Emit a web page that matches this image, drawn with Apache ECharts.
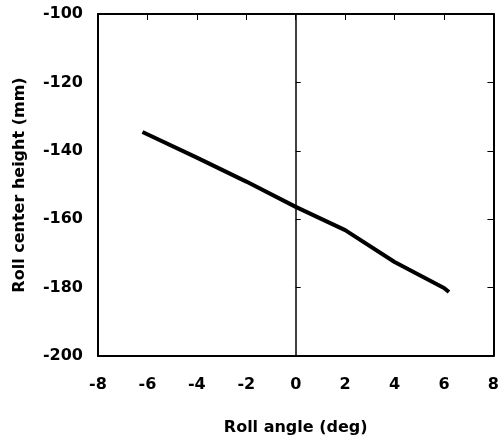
<!DOCTYPE html>
<html>
<head>
<meta charset="utf-8">
<script src="https://cdn.jsdelivr.net/npm/echarts@6/dist/echarts.min.js"></script>
<style>
  html, body { margin: 0; padding: 0; background: #fff; }
  #chart { width: 502px; height: 441px; }
</style>
</head>
<body>
<div id="chart"></div>
<script>
// Roll centre height versus roll angle
const rollAngle = [-6.2, -4, -2, 0, 2, 4, 6, 6.2];
const rollCenterHeight = [-134.5, -142, -149, -156.4, -163.2, -172.5, -180.1, -181.3];

const xTicks = [-8, -6, -4, -2, 0, 2, 4, 6, 8];
const yTicks = [-200, -180, -160, -140, -120, -100];

const FONT = '"DejaVu Sans", Arial, sans-serif';

const chart = echarts.init(document.getElementById('chart'));

const xMin = xTicks[0], xMax = xTicks[xTicks.length - 1];
const yMin = yTicks[0], yMax = yTicks[yTicks.length - 1];
const xStep = xTicks[1] - xTicks[0];
const yStep = yTicks[1] - yTicks[0];

chart.setOption({
  animation: false,
  backgroundColor: '#fff',
  grid: { left: 98, right: 5, top: 14, bottom: 85 },
  xAxis: [
    {
      type: 'value', min: xMin, max: xMax, interval: xStep, position: 'bottom',
      name: 'Roll angle (deg)', nameLocation: 'middle', nameGap: 64,
      nameTextStyle: { fontFamily: FONT, fontWeight: 'bold', fontSize: 16, color: '#000' },
      axisLine: { onZero: false, lineStyle: { color: '#000', width: 2 } },
      axisTick: { show: false },
      axisLabel: { fontFamily: FONT, fontWeight: 'bold', fontSize: 16, color: '#000', margin: 21 },
      splitLine: { show: false }
    },
    {
      type: 'value', min: xMin, max: xMax, interval: xStep, position: 'top',
      axisLine: { onZero: false, lineStyle: { color: '#000', width: 2 } },
      axisTick: { show: true, inside: true, length: 6, lineStyle: { color: '#000', width: 1 } },
      axisLabel: { show: false },
      splitLine: { show: false }
    }
  ],
  yAxis: [
    {
      type: 'value', min: yMin, max: yMax, interval: yStep, position: 'left',
      name: 'Roll center height (mm)', nameLocation: 'middle', nameGap: 70,
      nameTextStyle: { fontFamily: FONT, fontWeight: 'bold', fontSize: 16, color: '#000' },
      axisLine: { onZero: false, lineStyle: { color: '#000', width: 2 } },
      axisTick: { show: false },
      axisLabel: { fontFamily: FONT, fontWeight: 'bold', fontSize: 16, color: '#000', margin: 15 },
      splitLine: { show: false }
    },
    {
      type: 'value', min: yMin, max: yMax, interval: yStep, position: 'right',
      axisLine: { onZero: false, lineStyle: { color: '#000', width: 2 } },
      axisTick: { show: true, inside: true, length: 6, lineStyle: { color: '#000', width: 1 } },
      axisLabel: { show: false },
      splitLine: { show: false }
    },
    {
      // vertical reference line through zero roll angle
      type: 'value', min: yMin, max: yMax, interval: yStep, position: 'left',
      axisLine: { onZero: true, lineStyle: { color: '#000', width: 1.5 } },
      axisTick: { show: true, inside: true, length: 5, lineStyle: { color: '#000', width: 1 } },
      axisLabel: { show: false },
      splitLine: { show: false }
    }
  ],
  series: [
    {
      type: 'line',
      xAxisIndex: 0,
      yAxisIndex: 0,
      data: rollAngle.map((a, i) => [a, rollCenterHeight[i]]),
      showSymbol: false,
      smooth: false,
      lineStyle: { color: '#000', width: 4 }
    }
  ]
});
</script>
</body>
</html>
